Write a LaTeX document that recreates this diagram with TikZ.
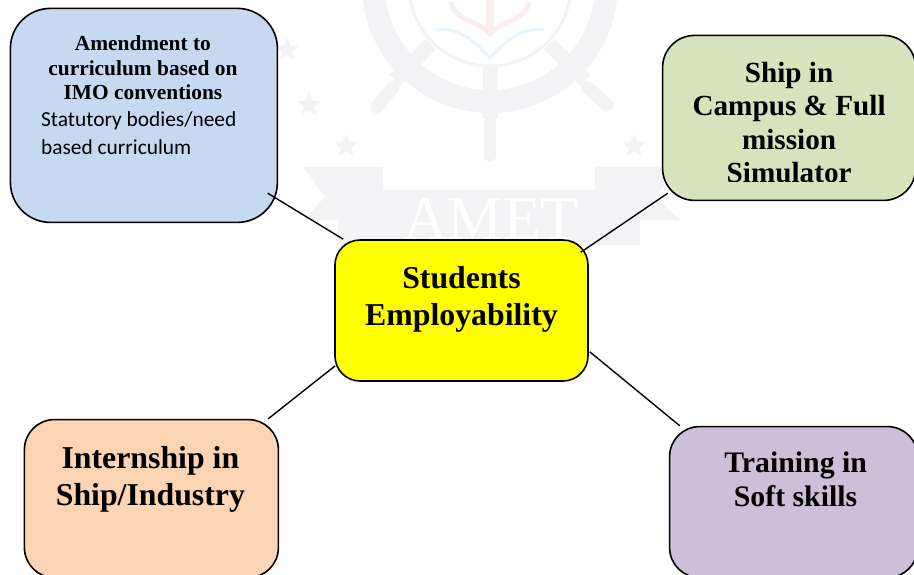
\documentclass[tikz,border=0pt]{standalone}
\usepackage{fontspec}
\setmainfont{Liberation Serif}
\newfontfamily\notefont{Carlito}
\usetikzlibrary{shapes, positioning}
\definecolor{markgrey}{HTML}{F3F3F6}
\definecolor{markred}{HTML}{F9EDED}
\definecolor{markblue}{HTML}{EBF4FA}
\definecolor{boxyellow}{RGB}{255,255,0}
\definecolor{boxblue}{HTML}{C6D9F1}
\definecolor{boxgreen}{HTML}{D7E3BC}
\definecolor{boxorange}{HTML}{FBD4B4}
\definecolor{boxpurple}{HTML}{CCC0D9}
\tikzstyle{box} = [draw, rectangle, line width=1.6pt, inner sep=0pt]
\tikzstyle{title} = [inner sep=0pt, align=center, font=\bfseries]
\tikzstyle{link} = [line width=1.4pt]
\tikzstyle{markstar} = [shape=star, star points=5, star point ratio=2.3, fill=markgrey, inner sep=0pt, minimum size=25pt]

\begin{document}
\begin{tikzpicture}[x=1pt, y=-1pt]
    \useasboundingbox (0,0) rectangle (914,574);
    % The faint crest behind the diagram
    \draw [markgrey, line width=23pt] (490,-15) circle (116.5);
    \draw [markgrey, line width=3pt] (490,-15) circle (81);
    \draw [markgrey, line width=15pt] (490,65) -- (490,118);
    \draw [markgrey, line width=15pt] (431,44) -- (395,80);
    \draw [markgrey, line width=15pt] (549,44) -- (585,80);
    \draw [markgrey, line width=13pt, line cap=round] (393,87) -- (377,107);
    \draw [markgrey, line width=13pt, line cap=round] (587,87) -- (607,105);
    \draw [markgrey, line width=12pt, line cap=round] (490,122) -- (490,156);
    \draw [markred, line width=5pt] (451,2) .. controls (455,22) and (478,20) .. (490,34) .. controls (502,20) and (525,22) .. (529,2);
    \draw [markred, line width=8pt] (490,0) -- (490,30);
    \draw [markblue, line width=3pt] (436,30) .. controls (460,26) and (478,45) .. (490,58) .. controls (502,45) and (520,26) .. (544,30);
    \node [markstar] (star1) at (287,50) {};
    \node [markstar] (star2) at (309,105) {};
    \node [markstar] (star3) at (346,146) {};
    \node [markstar] (star4) at (634,146) {};
    \fill [markgrey] (303,167) -- (383,167) -- (383,190) -- (595,190) -- (595,167) -- (680,167) -- (655,197) -- (680,220) -- (640,220) -- (640,245) -- (338,245) -- (338,220) -- (303,220) -- (325,197) -- cycle;
    \node [white, inner sep=0pt, font=\fontsize{62}{62}\selectfont] (crest) at (491,219) {AMET};

    % We start by placing the blocks
    \node [box, fill=boxyellow, rounded corners=25pt, minimum width=253pt, minimum height=141pt] (students) at (461.5,310.5) {};
    \node [box, fill=boxblue, rounded corners=40pt, minimum width=267pt, minimum height=214pt] (amend) [above left=16pt and 56pt of students] {};
    \node [box, fill=boxgreen, rounded corners=32pt, minimum width=253pt, minimum height=165pt] (campus) [above right=38pt and 73pt of students] {};
    \node [box, fill=boxorange, rounded corners=30pt, minimum width=254pt, minimum height=158pt] (intern) [below left=37pt and 55pt of students] {};
    \node [box, fill=boxpurple, rounded corners=30pt, minimum width=248pt, minimum height=151pt] (soft) [below right=44pt and 80pt of students] {};

    % The labels sit high in their blocks
    \node [title, font=\bfseries\fontsize{31.8}{37}\selectfont] (studentstext) [below=27pt of students.north] {Students\\Employability};
    \node [title, font=\bfseries\fontsize{21.4}{24.5}\selectfont] (amendtext) [below=28pt of amend.north, xshift=-1pt] {Amendment to\\curriculum based on\\IMO conventions};
    \node [inner sep=0pt, align=left, font=\notefont\fontsize{21.4}{28}\selectfont] (amendnote) [below right=104pt and -103pt of amend.north] {Statutory bodies/need\\based curriculum};
    \node [title, font=\bfseries\fontsize{31.8}{37}\selectfont] (interntext) [below=27pt of intern.north, xshift=-1pt] {Internship in\\Ship/Industry};
    \node [title, font=\bfseries\fontsize{29.8}{34}\selectfont] (softtext) [below=26pt of soft.north, xshift=2pt] {Training in\\Soft skills};
    \begin{scope}
        % The last line of this block is cut off by its frame
        \clip (663,35) rectangle (914,181);
        \node [title, font=\bfseries\fontsize{29.2}{33.5}\selectfont] (campustext) [below=27pt of campus.north] {Ship in\\Campus \& Full\\mission\\Simulator};
    \end{scope}

    % Once the nodes are placed, connecting them is easy.
    \draw [link] ([shift={(-10.5pt,30pt)}]amend.south east) -- ([shift={(9pt,0pt)}]students.north west);
    \draw [link] ([shift={(-8pt,-13pt)}]students.north east) -- ([shift={(6pt,8pt)}]campus.south west);
    \draw [link] ([shift={(1pt,16pt)}]students.south west) -- ([shift={(-11pt,0pt)}]intern.north east);
    \draw [link] ([shift={(1pt,30pt)}]students.south east) -- ([shift={(11pt,0pt)}]soft.north west);
\end{tikzpicture}
\end{document}
